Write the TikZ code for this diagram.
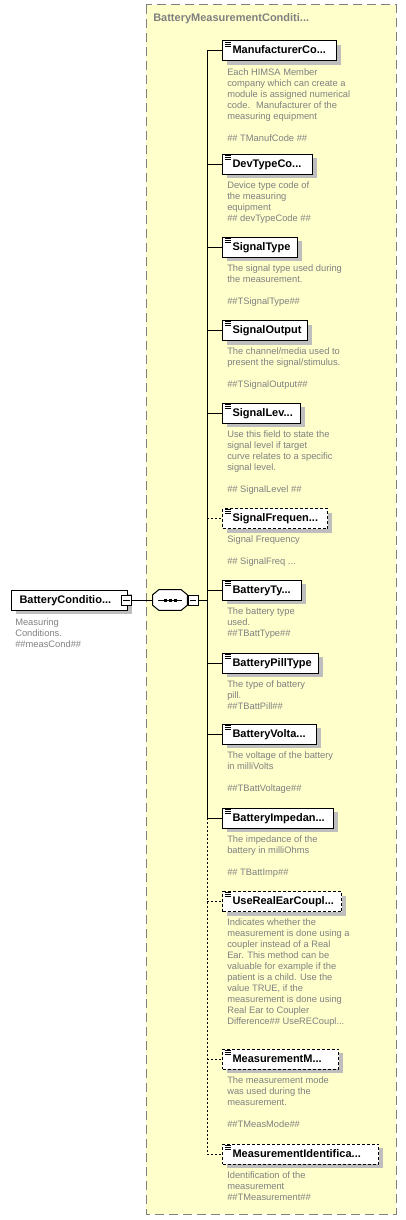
\documentclass[tikz,border=0pt]{standalone}
\usepackage{fontspec}
\setmainfont{Liberation Sans}
\usetikzlibrary{shadows}
\definecolor{bgyellow}{RGB}{255,255,204}
\definecolor{descgray}{RGB}{128,128,128}
\definecolor{bordergray}{RGB}{128,128,128}
\definecolor{shadowgray}{RGB}{190,190,190}
\newcommand\namefont{\fontsize{8.25}{9}\selectfont\bfseries}
\newcommand\descfont{\fontsize{7}{8.25}\selectfont}
\begin{document}
\begin{tikzpicture}[x=0.75pt,y=-0.75pt,
  conn/.style={line width=0.75pt},
  optline/.style={dash pattern=on 1.5pt off 1.5pt},
  optbox/.style={dash pattern=on 2.25pt off 1.5pt},
  boxshadow/.style={drop shadow={shadow xshift=3pt,shadow yshift=-3pt,fill=shadowgray,opacity=1}},
  elem/.style={draw,line width=0.75pt,fill=white,anchor=west,minimum height=15pt,
    inner xsep=0pt,inner ysep=0pt,font=\namefont,align=left,text height=6pt,text depth=1.5pt,
    boxshadow,
    path picture={\draw[solid,line width=0.6pt]
      ([xshift=1.5pt,yshift=-0.75pt]path picture bounding box.north west) -- ++(4.5pt,0)
      ([xshift=1.5pt,yshift=-2.25pt]path picture bounding box.north west) -- ++(4.5pt,0)
      ([xshift=1.5pt,yshift=-3.75pt]path picture bounding box.north west) -- ++(4.5pt,0);}},
  desc/.style={anchor=north west,align=left,inner sep=0pt,font=\descfont,text=descgray,
    execute at begin node={\rule{0pt}{6pt}}},
  minusbox/.style={draw,line width=0.75pt,fill=white,minimum width=7.5pt,minimum height=7.5pt,inner sep=0pt}
]
\useasboundingbox (0,0) rectangle (406,1220);
% container
\path[fill=bgyellow,draw=bordergray,line width=0.75pt,dash pattern=on 7pt off 3.5pt] (146,5) rectangle (396,1214);
\node[anchor=base west,inner sep=0pt,font=\namefont,text=descgray] (title) at (153,22) {BatteryMeasurementConditi...};

% root element
\node[elem,path picture={},text width=87pt] (root) at (11,600) {\hspace*{6pt}BatteryConditio...};
\node[minusbox] (rootm) at (126.5,600) {};
\draw[line width=0.75pt] ([xshift=-2.6pt]rootm.center) -- ([xshift=2.6pt]rootm.center);
\node[desc] (rootd) at (15,618) {Measuring\\Conditions.\\\#\#measCond\#\#};

% sequence compositor
\node[inner sep=0pt,minimum width=25.5pt,minimum height=15pt] (seq) at (170,600) {};
\fill[shadowgray,shift={(4,4)}] ([xshift=4.5pt]seq.north west) -- ([xshift=-4.5pt]seq.north east) -- ([yshift=-3.75pt]seq.north east) -- ([yshift=3.75pt]seq.south east) -- ([xshift=-4.5pt]seq.south east) -- ([xshift=4.5pt]seq.south west) -- ([yshift=3.75pt]seq.south west) -- ([yshift=-3.75pt]seq.north west) -- cycle;
\draw[line width=0.75pt,fill=white] ([xshift=4.5pt]seq.north west) -- ([xshift=-4.5pt]seq.north east) -- ([yshift=-3.75pt]seq.north east) -- ([yshift=3.75pt]seq.south east) -- ([xshift=-4.5pt]seq.south east) -- ([xshift=4.5pt]seq.south west) -- ([yshift=3.75pt]seq.south west) -- ([yshift=-3.75pt]seq.north west) -- cycle;
\draw[line width=0.75pt] ([xshift=-9pt]seq.center) -- ([xshift=9pt]seq.center);
\foreach \dx in {-3.75pt,0pt,3.75pt} \fill ([xshift=\dx]seq.center) +(-1.5,-1.5) rectangle +(1.5,1.5);
\node[minusbox] (seqm) at (193,600) {};
\draw[line width=0.75pt] ([xshift=-2.6pt]seqm.center) -- ([xshift=2.6pt]seqm.center);
\coordinate (sp) at (207,600);

% child elements
\node[elem,text width=85.5pt] (e1) at (222,51) {\hspace*{7.5pt}ManufacturerCo...};
\node[elem,text width=67.5pt] (e2) at (222,164.5) {\hspace*{7.5pt}DevTypeCo...};
\node[elem,text width=56.25pt] (e3) at (222,247) {\hspace*{7.5pt}SignalType};
\node[elem,text width=63.75pt] (e4) at (222,330.5) {\hspace*{7.5pt}SignalOutput};
\node[elem,text width=58.5pt] (e5) at (222,413) {\hspace*{7.5pt}SignalLev...};
\node[elem,optbox,text width=78.75pt] (e6) at (222,518.5) {\hspace*{7.5pt}SignalFrequen...};
\node[elem,text width=59.25pt] (e7) at (222,590) {\hspace*{7.5pt}BatteryTy...};
\node[elem,text width=72pt] (e8) at (222,663) {\hspace*{7.5pt}BatteryPillType};
\node[elem,text width=70.5pt] (e9) at (222,734) {\hspace*{7.5pt}BatteryVolta...};
\node[elem,text width=83.25pt] (e10) at (222,818) {\hspace*{7.5pt}BatteryImpedan...};
\node[elem,optbox,text width=89.25pt] (e11) at (222,901.5) {\hspace*{7.5pt}UseRealEarCoupl...};
\node[elem,optbox,text width=87pt] (e12) at (222,1059) {\hspace*{7.5pt}MeasurementM...};
\node[elem,optbox,text width=117pt] (e13) at (222,1154) {\hspace*{7.5pt}MeasurementIdentifica...};

% descriptions
\node[desc] (d1) at ([shift={(5,6.5)}]e1.south west) {Each HIMSA Member\\company which can create a\\module is assigned numerical\\code.~ Manufacturer of the\\measuring equipment\\[8.25pt]\#\# TManufCode \#\#};
\node[desc] (d2) at ([shift={(5,6.5)}]e2.south west) {Device type code of\\the measuring\\equipment\\\#\# devTypeCode \#\#};
\node[desc] (d3) at ([shift={(5,6.5)}]e3.south west) {The signal type used during\\the measurement.\\[8.25pt]\#\#TSignalType\#\#};
\node[desc] (d4) at ([shift={(5,6.5)}]e4.south west) {The channel/media used to\\present the signal/stimulus.\\[8.25pt]\#\#TSignalOutput\#\#};
\node[desc] (d5) at ([shift={(5,6.5)}]e5.south west) {Use this field to state the\\signal level if target\\curve relates to a specific\\signal level.\\[8.25pt]\#\# SignalLevel \#\#};
\node[desc] (d6) at ([shift={(5,6.5)}]e6.south west) {Signal Frequency\\[8.25pt]\#\# SignalFreq ...};
\node[desc] (d7) at ([shift={(5,6.5)}]e7.south west) {The battery type\\used.\\\#\#TBattType\#\#};
\node[desc] (d8) at ([shift={(5,6.5)}]e8.south west) {The type of battery\\pill.\\\#\#TBattPill\#\#};
\node[desc] (d9) at ([shift={(5,6.5)}]e9.south west) {The voltage of the battery\\in milliVolts\\[8.25pt]\#\#TBattVoltage\#\#};
\node[desc] (d10) at ([shift={(5,6.5)}]e10.south west) {The impedance of the\\battery in milliOhms\\[8.25pt]\#\# TBattImp\#\#};
\node[desc] (d11) at ([shift={(5,6.5)}]e11.south west) {Indicates whether the\\measurement is done using a\\coupler instead of a Real\\Ear. This method can be\\valuable for example if the\\patient is a child. Use the\\value TRUE, if the\\measurement is done using\\Real Ear to Coupler\\Difference\#\# UseRECoupl...};
\node[desc] (d12) at ([shift={(5,6.5)}]e12.south west) {The measurement mode\\was used during the\\measurement.\\[8.25pt]\#\#TMeasMode\#\#};
\node[desc] (d13) at ([shift={(5,6.5)}]e13.south west) {Identification of the\\measurement\\\#\#TMeasurement\#\#};

% connectors
\draw[conn] (rootm.east) -- (seq.west);
\draw[conn] (seqm.east) -- (seqm.east -| sp);
\draw[conn] (e1.west -| sp) -- (e10.west -| sp);
\draw[conn,optline] (e10.west -| sp) -- (e13.west -| sp);
\foreach \n in {1,2,3,4,5,7,8,9,10} \draw[conn] (e\n.west -| sp) -- (e\n.west);
\foreach \n in {6,11,12,13} \draw[conn,optline] (e\n.west -| sp) -- (e\n.west);
\end{tikzpicture}
\end{document}
